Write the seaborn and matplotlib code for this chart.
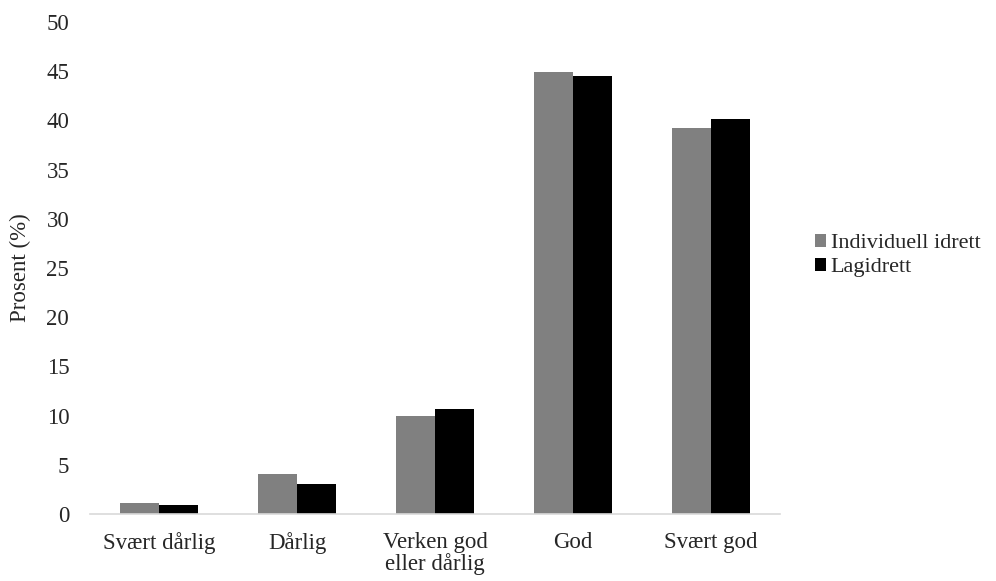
import pandas as pd
import matplotlib.pyplot as plt
import seaborn as sns

categories = ["Svært dårlig", "Dårlig", "Verken god\neller dårlig", "God", "Svært god"]
individuell = [1.1, 4.1, 10.0, 44.9, 39.2]
lagidrett = [0.9, 3.0, 10.7, 44.5, 40.1]
series = ["Individuell idrett", "Lagidrett"]

df = pd.DataFrame({
    "kategori": categories * 2,
    "prosent": individuell + lagidrett,
    "gruppe": [series[0]] * len(categories) + [series[1]] * len(categories),
})

sns.set_style("white")
plt.rcParams['font.family'] = ['Liberation Serif', 'DejaVu Serif']

fig = plt.figure(figsize=(9.96, 5.81), dpi=100)
ax = fig.add_axes([0.0904, 0.1153, 0.6926, 0.847])

sns.barplot(data=df, x="kategori", y="prosent", hue="gruppe",
            palette=["#808080", "#000000"], width=0.565, ax=ax,
            saturation=1, errorbar=None, linewidth=0)

ax.set_ylim(0, 50)
ax.set_xlim(-0.5, 4.5)
ax.set_yticks(range(0, 51, 5))
ax.set_xlabel("")
ax.set_ylabel("Prosent (%)", fontsize=16.5, labelpad=11)
ax.tick_params(axis='both', labelsize=16.5, length=0)
ax.tick_params(axis='y', pad=15)
ax.tick_params(axis='x', pad=13)
for s in ["top", "right", "left"]:
    ax.spines[s].set_visible(False)
ax.spines["bottom"].set_color("#d9d9d9")
ax.spines["bottom"].set_linewidth(1.2)

handles, labels = ax.get_legend_handles_labels()
for t in ax.get_xticklabels():
    t.set_linespacing(1.0)
ax.legend(handles, labels, loc="center left", bbox_to_anchor=(1.038, 0.525),
          borderaxespad=0, frameon=False, fontsize=16,
          handlelength=0.5, handleheight=0.5,
          handletextpad=0.2, labelspacing=0.22)

fig.savefig("out.png", dpi=100)
